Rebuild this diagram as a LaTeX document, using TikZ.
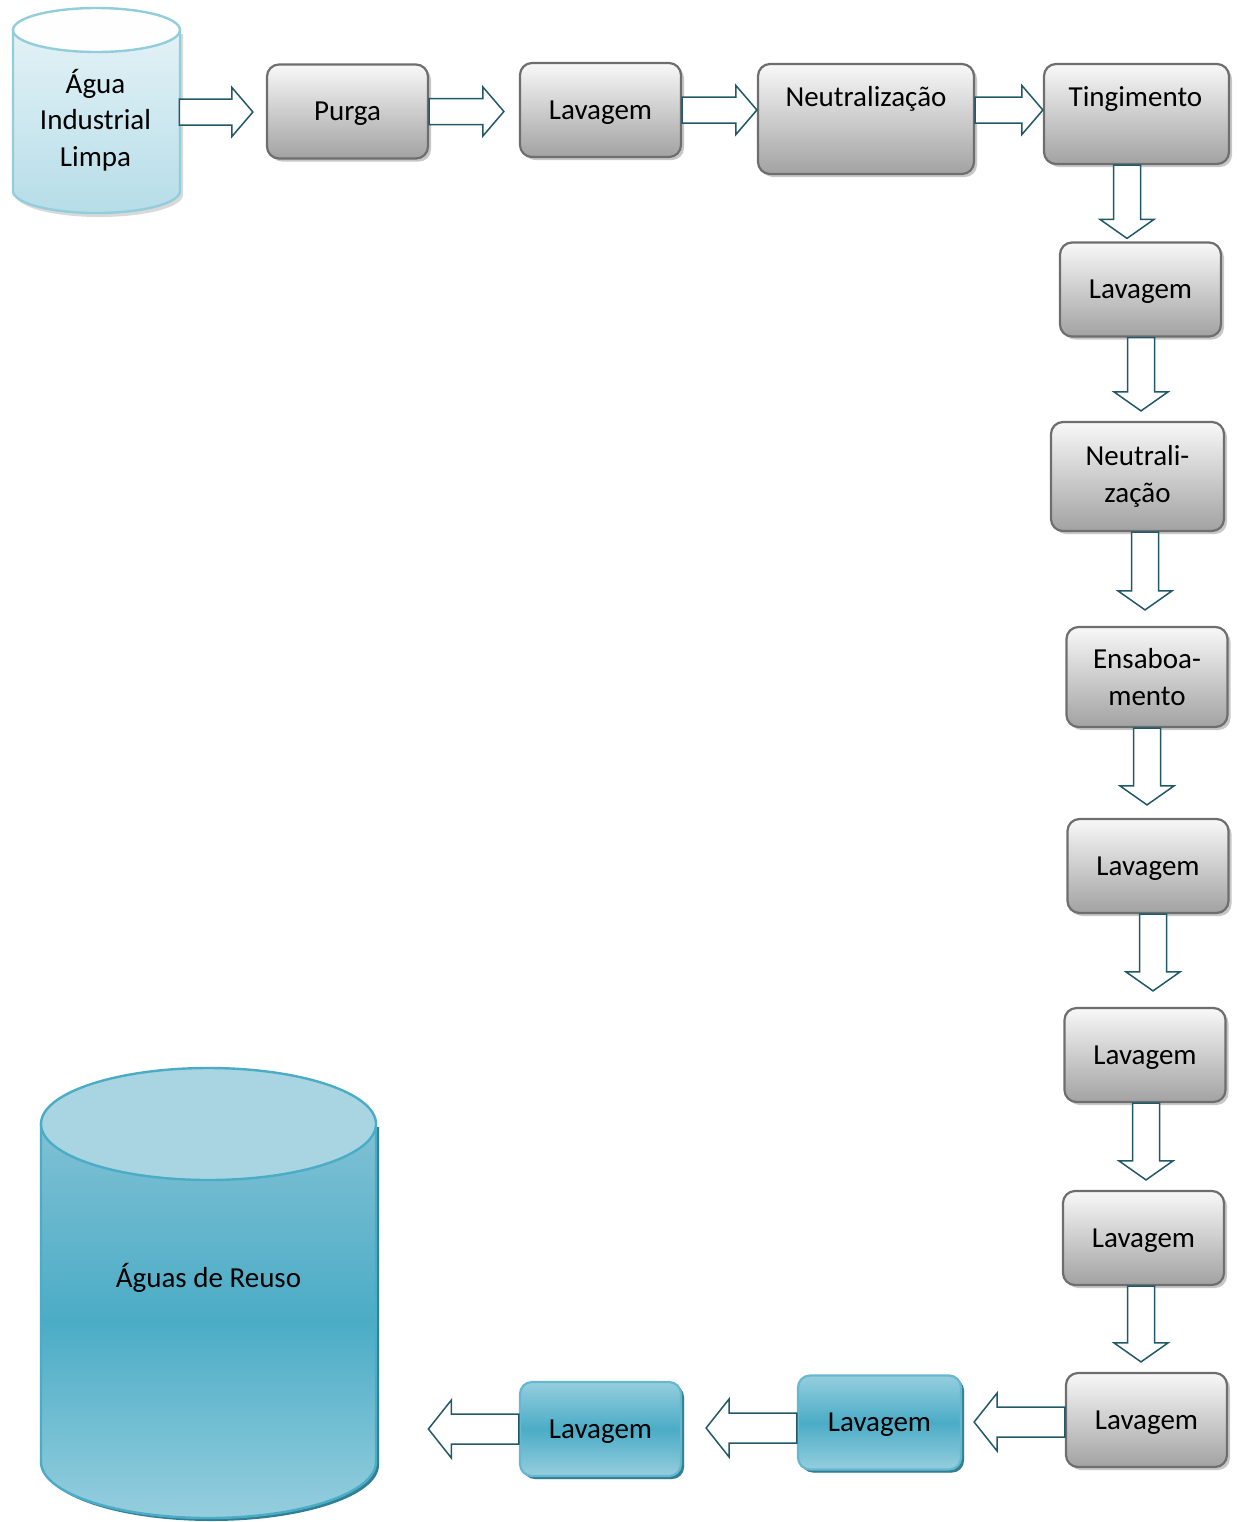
\documentclass[tikz,border=0pt]{standalone}
\usepackage{fontspec}
\setmainfont{Carlito}
\usetikzlibrary{calc,shadows}

\definecolor{arrowteal}{HTML}{215968}
\definecolor{boxline}{HTML}{6E6E6E}
\definecolor{boxtop}{HTML}{F8F8F8}
\definecolor{boxbot}{HTML}{A2A2A2}
\definecolor{reusetop}{HTML}{80C1D4}
\definecolor{reusemid}{HTML}{4BACC6}
\definecolor{reuselight}{HTML}{95CEDE}
\definecolor{reusecap}{HTML}{A9D5E2}
\definecolor{reusedark}{HTML}{2F7F96}
\definecolor{tankline}{HTML}{92CDDC}
\definecolor{tanktop}{HTML}{E3F2F6}
\definecolor{tankbot}{HTML}{B6DDE8}

\tikzset{
  txt/.style={font=\fontsize{14.5pt}{18.2pt}\selectfont, align=center, inner sep=0pt},
  procbox/.style={txt, draw=boxline, line width=1.1pt, rounded corners=6pt,
    top color=boxtop, bottom color=boxbot, minimum width=80.5pt, minimum height=47pt,
    drop shadow={shadow xshift=1.5pt, shadow yshift=-1.5pt, fill=black, opacity=0.22}},
  lavbox/.style={procbox, text depth=0pt},
  reusebox/.style={lavbox, draw=reusemid!85!white, top color=reuselight, bottom color=reuselight,
    middle color=reusemid,
    drop shadow={shadow xshift=1.5pt, shadow yshift=-1.5pt, fill=reusedark, opacity=1}},
  blockarr/.style={draw=arrowteal, fill=white, line width=0.75pt, line join=miter},
}

% block arrow between two named coordinates: start, tip, half body, half head, head length
\newcommand{\blockarrow}[5]{%
  \path ($(#2)!#5!(#1)$) coordinate (h);
  \draw[blockarr] ($(#1)!#3!90:(#2)$) -- ($(h)!#3!90:(#2)$) -- ($(h)!#4!90:(#2)$) -- (#2)
    -- ($(h)!#4!-90:(#2)$) -- ($(h)!#3!-90:(#2)$) -- ($(#1)!#3!-90:(#2)$) -- cycle;}
\newcommand{\rarrow}[3]{%
  \path (#1) coordinate (s);
  \path ($(s -| #2.west)+(-#3,0)$) coordinate (t);
  \blockarrow{s}{t}{6.5pt}{12.25pt}{10.5pt}}
\newcommand{\darrow}[4]{%
  \path ($(#1.south)+(#2,0)$) coordinate (s);
  \path ($(s |- #3.north)+(0,-#4)$) coordinate (t);
  \blockarrow{s}{t}{6.75pt}{13.5pt}{9.5pt}}
\newcommand{\larrow}[3]{%
  \path (#1) coordinate (s);
  \path ($(s -| #2.east)+(#3,0)$) coordinate (t);
  \blockarrow{s}{t}{7.5pt}{14.5pt}{11.5pt}}

\begin{document}
\begin{tikzpicture}[x=0.5pt,y=-0.5pt]
  \useasboundingbox (0,0) rectangle (1237,1522);

  % clean water tank
  \fill[black,opacity=0.15] (16,34) -- (16,195) arc[start angle=180, end angle=360, x radius=41.75pt, y radius=11pt] -- (183,34) -- cycle;
  \draw[tankline, line width=1.2pt, top color=tanktop, bottom color=tankbot]
    (13,30) -- (13,191) arc[start angle=180, end angle=360, x radius=41.75pt, y radius=11pt] -- (180,30) -- cycle;
  \draw[tankline, line width=1.2pt, fill=white!96!tanktop] (96.5,30) ellipse[x radius=41.75pt, y radius=11pt];
  \node[txt, minimum width=83.5pt] (Agua) at (95.5,120) {Água\\Industrial\\Limpa};

  % reuse tank
  \fill[reusedark] (44,1127) -- (44,1465) arc[start angle=180, end angle=360, x radius=83.75pt, y radius=28pt] -- (379,1127) -- cycle;
  \draw[reusemid, line width=1.2pt, top color=reusetop, bottom color=reuselight, middle color=reusemid]
    (41,1124) -- (41,1462) arc[start angle=180, end angle=360, x radius=83.75pt, y radius=28pt] -- (376,1124) -- cycle;
  \draw[reusemid, line width=1.2pt, fill=reusecap] (208.5,1124) ellipse[x radius=83.75pt, y radius=28pt];
  \node[txt, minimum width=167.5pt] (Reuso) at (208.5,1278) {Águas de Reuso};

  \node[lavbox] (Purga) at (347.5,111.5) {Purga};
  \node[lavbox] (Lav1) at (600.5,110) {Lavagem};
  \node[procbox, minimum width=108pt, minimum height=55pt] (Neu1) at (866,119) {};
  \node[txt] (Neu1t) at ($(Neu1.north)+(0,36)$) {Neutralização};
  \node[procbox, minimum width=92.5pt, minimum height=50pt] (Ting) at (1136.5,114) {};
  \node[txt] (Tingt) at ($(Ting.north)+(-1,36)$) {Tingimento};

  \node[lavbox] (Lav2) at (1140.5,289.5) {Lavagem};
  \node[procbox, minimum width=86.5pt, minimum height=54.5pt] (Neu2) at (1137.5,476.5) {Neutrali-\\zação};
  \node[procbox, minimum height=50pt] (Ensab) at (1147,677) {Ensaboa-\\mento};
  \node[lavbox] (Lav3) at (1148,866) {Lavagem};
  \node[lavbox] (Lav4) at (1145,1055) {Lavagem};
  \node[lavbox] (Lav5) at (1143.5,1238) {Lavagem};
  \node[lavbox] (Lav6) at (1146.5,1420) {Lavagem};
  \node[reusebox, minimum width=81.5pt] (Lav7) at (879.5,1422.5) {Lavagem};
  \node[reusebox] (Lav8) at (600.5,1429) {Lavagem};

  \rarrow{$(Agua.east)+(0,-8)$}{Purga}{13}
  \rarrow{Purga.east}{Lav1}{15}
  \rarrow{Lav1.east}{Neu1}{0}
  \rarrow{Neu1.east |- Lav1.east}{Ting}{0}

  \darrow{Ting}{-9.5}{Lav2}{3}
  \darrow{Lav2}{0.5}{Neu2}{10}
  \darrow{Neu2}{7.5}{Ensab}{16}
  \darrow{Ensab}{0}{Lav3}{13}
  \darrow{Lav3}{5}{Lav4}{16}
  \darrow{Lav4}{1}{Lav5}{10}
  \darrow{Lav5}{-2.5}{Lav6}{10}

  \larrow{$(Lav6.west)+(0,2)$}{Lav7}{12}
  \larrow{$(Lav7.west)+(0,5.5)$}{Lav8}{24}
  \larrow{Lav8.west}{Reuso}{52}
\end{tikzpicture}
\end{document}
